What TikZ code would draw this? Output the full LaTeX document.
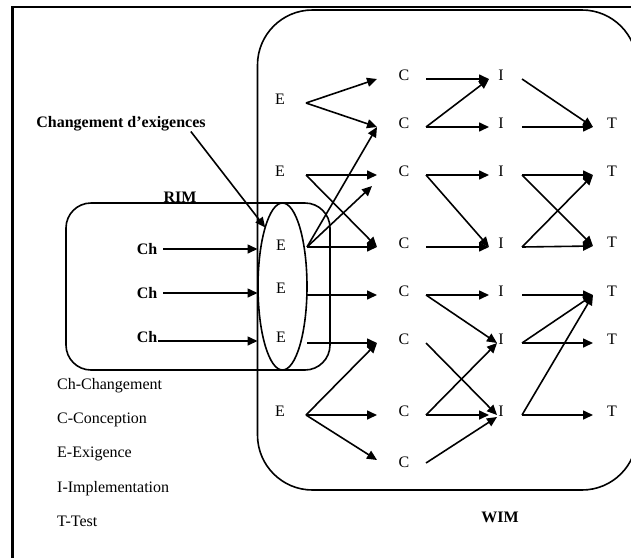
\documentclass[tikz,border=0pt]{standalone}
\usepackage{fontspec}
\setmainfont{Liberation Serif}
\usetikzlibrary{arrows.meta,shapes.geometric}
\newcommand\myconn[6]{\draw[arr] ([xshift=#2pt,yshift=#3pt]#1.base) -- ([xshift=#5pt,yshift=#6pt]#4.base);}
\begin{document}
\begin{tikzpicture}[x=1pt,y=-1pt,
  lab/.style={font=\fontsize{16}{19}\selectfont, inner sep=0pt, anchor=base},
  bold/.style={font=\fontsize{16}{19}\selectfont\bfseries, inner sep=0pt},
  leg/.style={font=\fontsize{16}{19}\selectfont, inner sep=0pt, anchor=base west},
  arr/.style={line width=1.6pt, -{Triangle[length=10pt,width=9pt]}},
  box/.style={draw, line width=1.6pt, inner sep=0pt, outer sep=0pt}]
\useasboundingbox (0,0) rectangle (631,557);
\clip (0,0) rectangle (631,557);
\draw[line width=2.5pt] (12.5,7) rectangle (700,700);
% boxes
\node[box, rounded corners=55pt, minimum width=379.5pt, minimum height=480pt] (wim) at (447.25,250) {};
\node[box, rounded corners=25pt, minimum width=264pt, minimum height=167pt] (rim) at (198,286.5) {};
\node[box, ellipse, minimum width=49pt, minimum height=167pt] (ell) at (282.5,286.5) {};
% labels
\node[lab] (E1) at (280,104) {E};
\node[lab] (E2) at (280,176) {E};
\node[lab] (E3) at (281,250) {E};
\node[lab] (E4) at (281,293) {E};
\node[lab] (E5) at (281,342) {E};
\node[lab] (E6) at (280,416) {E};
\node[lab] (C1) at (404,80) {C};
\node[lab] (C2) at (404,128) {C};
\node[lab] (C3) at (404,176) {C};
\node[lab] (C4) at (404,248) {C};
\node[lab] (C5) at (404,296) {C};
\node[lab] (C6) at (404,344) {C};
\node[lab] (C7) at (404,416) {C};
\node[lab] (C8) at (404,467) {C};
\node[lab] (I1) at (501,80) {I};
\node[lab] (I2) at (501,128) {I};
\node[lab] (I3) at (501,176) {I};
\node[lab] (I4) at (501,248) {I};
\node[lab] (I5) at (501,296) {I};
\node[lab] (I6) at (501,344) {I};
\node[lab] (I7) at (501,416) {I};
\node[lab] (T1) at (612,128) {T};
\node[lab] (T2) at (612,176) {T};
\node[lab] (T3) at (612,247) {T};
\node[lab] (T4) at (612,296) {T};
\node[lab] (T5) at (612,344) {T};
\node[lab] (T6) at (612,416) {T};
\node[bold] (Ch1) at (147,249) {Ch};
\node[bold] (Ch2) at (147,293) {Ch};
\node[bold] (Ch3) at (147,337) {Ch};
\node[bold] (chg) at (121,124) {Changement d’exigences};
\node[bold] (rimlab) at (180,197) {RIM};
\node[bold] (wimlab) at (500,517) {WIM};
\node[leg] (L1) at (57,389) {Ch-Changement};
\node[leg] (L2) at (57,423) {C-Conception};
\node[leg] (L3) at (57,457) {E-Exigence};
\node[leg] (L4) at (57,492) {I-Implementation};
\node[leg] (L5) at (57,526) {T-Test};
% Ch arrows
\draw[arr] ([xshift=6pt]Ch1.east) -- (Ch1.east -| wim.west);
\draw[arr] ([xshift=6pt]Ch2.east) -- (Ch2.east -| wim.west);
\draw[arr] ([xshift=1pt,yshift=-4pt]Ch3.east) -- ([yshift=-4pt]Ch3.east -| wim.west);
\draw[arr] ([xshift=-15pt]chg.south east) -- (ell.north west);
% E -> C
\myconn{E1}{26}{1}{C1}{-27}{1}
\myconn{E1}{26}{1}{C2}{-27}{1}
\myconn{E2}{26}{1}{C3}{-27}{1}
\myconn{E2}{26}{1}{C4}{-27}{1}
\myconn{E3}{26}{3}{C2}{-27}{1}
\myconn{E3}{26}{3}{C3}{-32}{-10}
\myconn{E3}{26}{3}{C4}{-27}{1}
\myconn{E4}{26}{-2}{C5}{-27}{1}
\myconn{E5}{26}{-1}{C6}{-27}{1}
\myconn{E6}{26}{1}{C6}{-27}{1}
\myconn{E6}{26}{1}{C7}{-27}{1}
\myconn{E6}{26}{1}{C8}{-27}{7}
% C -> I
\myconn{C1}{22}{1}{I1}{-12}{1}
\myconn{C2}{22}{1}{I1}{-12}{1}
\myconn{C2}{22}{1}{I2}{-12}{1}
\myconn{C3}{22}{1}{I3}{-12}{1}
\myconn{C3}{22}{1}{I4}{-12}{1}
\myconn{C4}{22}{1}{I4}{-12}{1}
\myconn{C5}{22}{1}{I5}{-12}{1}
\myconn{C5}{22}{1}{I6}{-4}{1}
\myconn{C6}{22}{1}{I7}{-4}{1}
\myconn{C7}{22}{1}{I6}{-4}{1}
\myconn{C7}{22}{1}{I7}{-12}{1}
\myconn{C8}{22}{4}{I7}{-4}{-1}
% I -> T
\myconn{I1}{21}{1}{T1}{-19}{1}
\myconn{I2}{21}{1}{T1}{-19}{1}
\myconn{I3}{21}{1}{T2}{-19}{1}
\myconn{I3}{21}{1}{T3}{-19}{1}
\myconn{I4}{21}{1}{T2}{-19}{1}
\myconn{I4}{21}{1}{T3}{-19}{1}
\myconn{I5}{21}{1}{T4}{-19}{1}
\myconn{I6}{21}{1}{T4}{-19}{1}
\myconn{I6}{21}{1}{T5}{-19}{1}
\myconn{I7}{21}{1}{T4}{-19}{1}
\myconn{I7}{21}{1}{T6}{-19}{1}
\end{tikzpicture}
\end{document}
